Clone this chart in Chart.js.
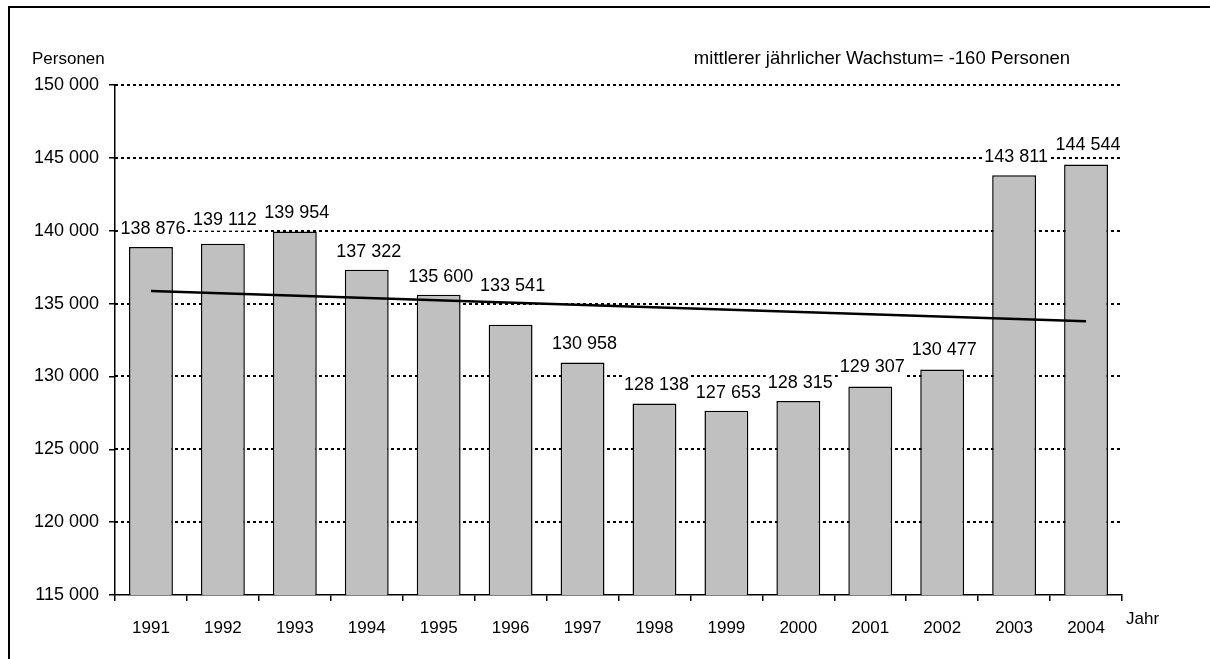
<!DOCTYPE html>
<html>
<head>
<meta charset="utf-8">
<script src="https://cdn.jsdelivr.net/npm/chart.js@4/dist/chart.umd.min.js"></script>
<style>
  html, body { margin: 0; padding: 0; background: #fff; }
  canvas { display: block; }
</style>
</head>
<body>
<canvas id="c" width="1210" height="659"></canvas>
<script>
const years = ['1991','1992','1993','1994','1995','1996','1997','1998','1999','2000','2001','2002','2003','2004'];
const persons = [138876, 139112, 139954, 137322, 135600, 133541, 130958, 128138, 127653, 128315, 129307, 130477, 143811, 144544];
const trendValues = [135870, null, null, null, null, null, null, null, null, null, null, null, null, 133790];
const yTicks = [115000, 120000, 125000, 130000, 135000, 140000, 145000, 150000];
const yAxisTitle = 'Personen';
const xAxisTitle = 'Jahr';
const noteText = 'mittlerer jährlicher Wachstum= -160 Personen';

const FONT = '"Liberation Sans", Arial, sans-serif';
const fmt = v => String(v).replace(/\B(?=(\d{3})+(?!\d))/g, ' ');

const decor = {
  id: 'decor',
  beforeDatasetsDraw(chart) {
    const {ctx, chartArea, scales} = chart;
    const y = scales.y;
    ctx.save();
    ctx.strokeStyle = '#000';
    ctx.lineWidth = 2;
    ctx.setLineDash([3, 3]);
    yTicks.forEach(v => {
      if (v === y.min) return;
      const py = Math.round(y.getPixelForValue(v));
      ctx.beginPath();
      ctx.moveTo(chartArea.left, py);
      ctx.lineTo(chartArea.right, py);
      ctx.stroke();
    });
    ctx.restore();
  },
  afterDatasetsDraw(chart, args, opts) {
    const {ctx} = chart;
    const meta = chart.getDatasetMeta(1);
    const lift = opts.lift || [];
    ctx.save();
    ctx.font = '18px ' + FONT;
    ctx.textAlign = 'center';
    ctx.textBaseline = 'middle';
    meta.data.forEach((bar, i) => {
      const txt = fmt(persons[i]);
      const cx = bar.x + 2;
      const cy = bar.y - (lift[i] != null ? lift[i] : 18);
      const w = ctx.measureText(txt).width + 4;
      ctx.fillStyle = '#fff';
      ctx.fillRect(cx - w / 2, cy - 10, w, 21);
      ctx.fillStyle = '#000';
      ctx.fillText(txt, cx, cy);
    });
    ctx.restore();
  },
  afterDraw(chart) {
    const {ctx} = chart;
    ctx.save();
    ctx.fillStyle = '#000';
    ctx.textBaseline = 'middle';
    ctx.textAlign = 'left';
    ctx.font = '17px ' + FONT;
    ctx.fillText(yAxisTitle, 32, 59);
    ctx.textAlign = 'right';
    ctx.font = '18.5px ' + FONT;
    ctx.fillText(noteText, 1070, 59);
    ctx.textAlign = 'left';
    ctx.font = '17px ' + FONT;
    ctx.fillText(xAxisTitle, 1126, 619);
    ctx.strokeStyle = '#000';
    ctx.lineWidth = 2;
    ctx.strokeRect(9, 7, 1400, 1000);
    ctx.restore();
  }
};

new Chart(document.getElementById('c'), {
  type: 'bar',
  data: {
    labels: years,
    datasets: [
      {
        type: 'line',
        data: trendValues,
        borderColor: '#000',
        borderWidth: 2.5,
        pointRadius: 0,
        spanGaps: true,
        order: 0,
        fill: false
      },
      {
        type: 'bar',
        data: persons,
        backgroundColor: '#c0c0c0',
        borderColor: '#000',
        borderWidth: 1.5,
        categoryPercentage: 1,
        barPercentage: 0.61,
        order: 1
      }
    ]
  },
  options: {
    responsive: false,
    animation: false,
    events: [],
    layout: { padding: { left: 0, top: 85, right: 88, bottom: 0 } },
    plugins: {
      legend: { display: false },
      tooltip: { enabled: false },
      decor: { lift: [18, 24, 18, 18, 18, 39, 18, 19, 18, 18, 19, 19, 18, 19] }
    },
    scales: {
      x: {
        offset: true,
        grid: { display: true, offset: true, drawOnChartArea: false, drawTicks: true, tickLength: 6, color: '#000', lineWidth: 1.5 },
        border: { display: true, color: '#000', width: 1.5 },
        ticks: { color: '#000', font: { family: FONT, size: 17 }, padding: 17, maxRotation: 0, autoSkip: false },
        afterFit(s) { s.height = 64; }
      },
      y: {
        min: 115000,
        max: 150000,
        grid: { display: true, drawOnChartArea: false, drawTicks: true, tickLength: 6, color: '#000', lineWidth: 1.5 },
        border: { display: true, color: '#000', width: 1.5 },
        ticks: { stepSize: 5000, color: '#000', font: { family: FONT, size: 18 }, padding: 10, callback: v => fmt(v) },
        afterFit(s) { s.width = 115; }
      }
    }
  },
  plugins: [decor]
});
</script>
</body>
</html>
